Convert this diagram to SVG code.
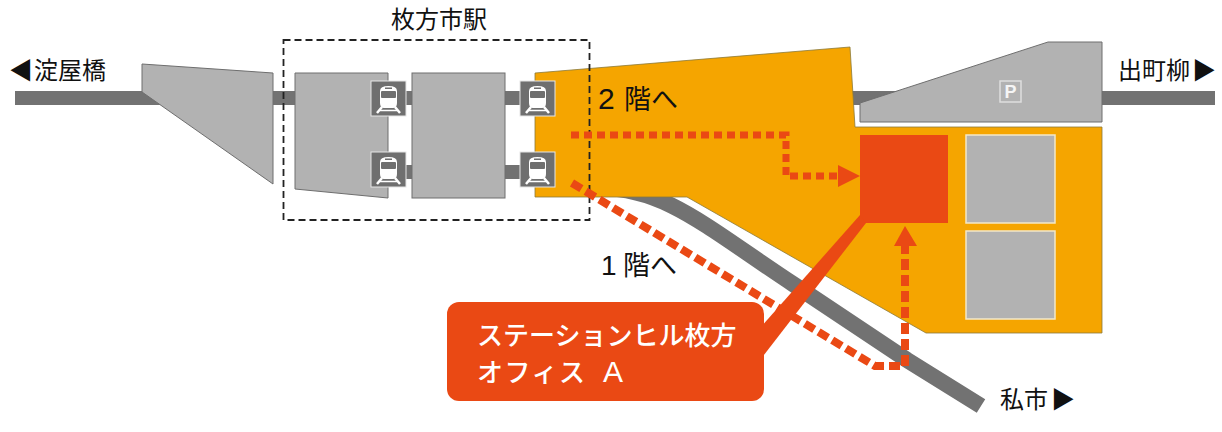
<svg xmlns="http://www.w3.org/2000/svg" xmlns:xlink="http://www.w3.org/1999/xlink" width="1222" height="432" viewBox="0 0 1222 432">
<style>
text{font-family:"Noto Sans CJK JP","Liberation Sans",sans-serif;fill:#111}
.lbl{font-size:24px}
.big{font-size:27px}
.call{font-size:26px;fill:#fff;font-weight:500}
.lat{font-family:"Liberation Sans",sans-serif}
.bld{fill:#b2b2b2;stroke:#6e6e6e;stroke-width:1}
.trk{fill:#727272}
.route{fill:none;stroke:#ea4914;stroke-width:7}
.red{fill:#ea4914}
</style>
<defs>
<g id="train">
<rect width="35" height="35" fill="#6f6f6f" stroke="#e6e6e6" stroke-width="1"/>
<path d="M9 10q0-5 8.500-5t8.500 5v12q0 5-4 5h-9q-4 0-4-5z" fill="#fff"/>
<rect x="10" y="10" width="15" height="7" rx="1" fill="#6f6f6f"/>
<rect x="14" y="6.500" width="7" height="1.500" fill="#6f6f6f"/>
<path d="M11 26l-5 6M24 26l5 6" fill="none" stroke="#fff" stroke-width="2.500"/>
<path d="M9 29.500h17" fill="none" stroke="#fff" stroke-width="1.500"/>
</g>
</defs>
<g id="tracks">
<rect class="trk" x="15" y="91" width="150" height="14"/>
<rect class="trk" x="273" y="91" width="24" height="14"/>
<rect class="trk" x="405" y="91" width="8" height="14"/>
<rect class="trk" x="405" y="165" width="8" height="14"/>
<rect class="trk" x="504" y="91" width="18" height="14"/>
<rect class="trk" x="504" y="165" width="18" height="14"/>
<rect class="trk" x="850" y="91" width="60" height="14"/>
<rect class="trk" x="1100" y="91" width="115" height="14"/>
<path id="curve-track" d="M600 188C665 188 705 226 793 284L907 360L981 406" fill="none" stroke="#727272" stroke-width="16"/>
</g>
<g id="station-left"><polygon class="bld" points="142,64 273,73 273,184 142,92"/></g>
<g id="building-a"><polygon class="bld" points="295,73 388,73 388,198 295,189"/></g>
<g id="building-b"><rect class="bld" x="412" y="73" width="93" height="125"/></g>
<g id="orange-building"><polygon fill="#f5a500" stroke="#8a7a3a" stroke-width="0.800" points="535,73 850,47 855,127 1102,127 1102,333 926,333 687,197 535,197"/></g>
<g id="parking">
<polygon class="bld" points="860,103 1048,42 1102,42 1102,122 860,122"/>
<rect x="1000" y="81" width="21" height="21" fill="none" stroke="#dedede" stroke-width="1.500"/>
<text x="1010.500" y="98" text-anchor="middle" style="font-family:'Liberation Sans',sans-serif;font-size:18px;font-weight:bold;fill:#f5f5f5">P</text>
</g>
<g id="offices">
<rect class="bld" x="966" y="135" width="89" height="88" style="stroke:#f3e8c8;stroke-width:1.500"/>
<rect class="bld" x="966" y="231" width="89" height="88" style="stroke:#f3e8c8;stroke-width:1.500"/>
</g>
<g id="icons">
<use xlink:href="#train" href="#train" x="371" y="81"/>
<use xlink:href="#train" href="#train" x="371" y="152"/>
<use xlink:href="#train" href="#train" x="520" y="81"/>
<use xlink:href="#train" href="#train" x="520" y="152"/>
</g>
<g id="station-frame"><rect x="283.500" y="40" width="306" height="180" fill="none" stroke="#222" stroke-width="1.800" stroke-dasharray="7 4"/></g>
<g id="connectors">
<path class="route" stroke-dasharray="8 5" d="M571 135H786V176H840"/>
<polygon class="red" points="838,165 860,176 838,187"/>
<path class="route" stroke-width="8" stroke-dasharray="11 5" style="stroke-width:8" d="M572 183L875 366H905V246"/>
<polygon class="red" points="894,246 905,226 917,246"/>
</g>
<g id="office-a"><rect class="red" x="860" y="135" width="88" height="88"/></g>
<g id="callout">
<polygon class="red" points="760,328 860,215 866,223 760,360"/>
<rect class="red" x="447" y="302" width="317" height="99" rx="12"/>
<text class="call" x="477" y="345">ステーションヒル枚方</text>
<text class="call" x="477" y="382" letter-spacing="1.500">オフィス</text>
<text class="call lat" x="603" y="382" style="font-size:30px">A</text>
</g>
<g id="labels">
<text class="lbl" x="391" y="28">枚方市駅</text>
<text class="lbl" x="34" y="79">淀屋橋</text>
<text class="lbl" x="9" y="79">◀</text>
<text class="lbl" x="1118" y="79">出町柳</text>
<text class="lbl" x="1192" y="79">▶</text>
<text class="lbl" x="1000" y="408">私市</text>
<text class="lbl" x="1051" y="408">▶</text>
<text class="big lat" x="598" y="109" style="font-size:30px">2</text>
<text class="big" x="624" y="109">階へ</text>
<text class="big lat" x="601" y="275" style="font-size:28px">1</text>
<text class="big" x="623" y="275">階へ</text>
</g>
</svg>
